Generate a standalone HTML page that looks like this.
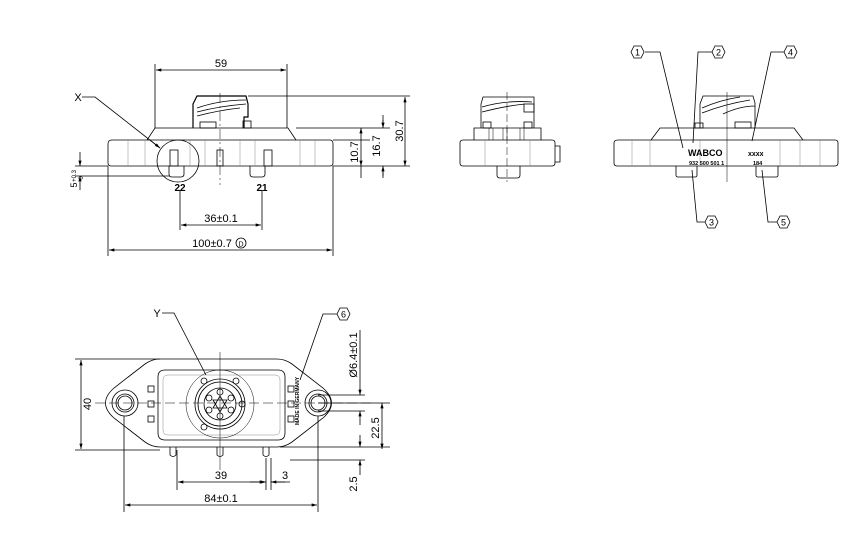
<!DOCTYPE html>
<html><head><meta charset="utf-8"><style>
html,body{margin:0;padding:0;background:#fff}
svg{display:block}
text{font-family:"Liberation Sans",sans-serif;fill:#000}
</style></head><body>
<svg width="868" height="555" viewBox="0 0 868 555" xmlns="http://www.w3.org/2000/svg">
<defs>
<marker id="a" viewBox="0 0 10 6" refX="10" refY="3" markerWidth="8" markerHeight="4" orient="auto-start-reverse"><path d="M0,0L10,3L0,6z" fill="#000"/></marker>
</defs>
<g fill="none" stroke="#000" stroke-width="0.8">
<!-- FRONT VIEW -->
<path d="M112,140 H330 Q333,140 333,144 V163 Q333,166 330,166 H111 Q108,166 108,163 V144 Q108,140 112,140Z"/>
<path d="M147,140 L155,128 H288 L296,140"/>
<path d="M193,128 V104 L197,96 H246 L248,104 V117 H244 V128" stroke-width="1.2"/>
<path d="M197,108 Q220,100 246,100 M197,112 Q220,106 246,104 M197,116 Q220,110 240,108"/>
<rect x="200" y="122" width="16" height="6"/><rect x="243" y="121" width="8" height="7"/>
<g stroke="#888" stroke-width="0.5"><path d="M128,140V166M145,140V166M190,140V166M205,140V166M240,140V166M255,140V166M300,140V166M315,140V166"/></g>
<rect x="170" y="150" width="8" height="16"/><rect x="217" y="150" width="6" height="16"/><rect x="264" y="150" width="8" height="16"/>
<path d="M169,166V174Q169,177 172,177H181Q184,177 184,174V166"/>
<path d="M250,166V174Q250,177 253,177H262Q265,177 265,174V166"/>
<circle cx="178" cy="161" r="21"/>
<path d="M220,93V185" stroke-dasharray="10,3,2,3" stroke-width="0.5"/>
<path d="M155,128V64M287,128V64"/><path d="M156,70H286" marker-start="url(#a)" marker-end="url(#a)"/>
<path d="M248,96H410M296,128H390M333,140H370M333,166H410M75,166H108M75,176H170"/>
<path d="M405,97V166" marker-start="url(#a)" marker-end="url(#a)"/>
<path d="M383,115V128M383,166V178"/><path d="M383,120V128" marker-end="url(#a)"/><path d="M383,176V166" marker-end="url(#a)"/>
<path d="M361,128V166" marker-start="url(#a)" marker-end="url(#a)"/><path d="M361,166V178"/>
<path d="M80,152V166" marker-end="url(#a)"/><path d="M80,190V176" marker-end="url(#a)"/>
<path d="M180,190V230M262,190V230M108,166V256M333,166V256"/>
<path d="M181,225H261" marker-start="url(#a)" marker-end="url(#a)"/>
<path d="M109,250H332" marker-start="url(#a)" marker-end="url(#a)"/>
<path d="M82,97H95L160,148" /><path d="M150,140L160,148" marker-end="url(#a)"/>
<circle cx="241" cy="243" r="5"/>
<!-- SIDE VIEW -->
<path d="M463,140H552Q555,140 555,143V163Q555,166 552,166H463Q460,166 460,163V143Q460,140 463,140Z"/>
<path d="M474,140V128H541V140M481,128V104L483,97H534V128" /><path d="M482,107Q505,100 532,102M482,112Q505,106 525,104"/>
<rect x="524" y="104" width="10" height="8"/>
<rect x="483" y="122" width="8" height="6"/><rect x="524" y="122" width="8" height="6"/>
<path d="M489,128V140M493,128V140M503,128V140M507,128V140M520,128V140M524,128V140" stroke-width="0.5"/>
<path d="M555,146H560V162H555M497,166V175Q497,178 500,178H517Q520,178 520,175V166"/>
<path d="M507,92V182" stroke-dasharray="8,3" stroke-width="0.5"/>
<g stroke="#888" stroke-width="0.5"><path d="M485,140V166M530,140V166"/></g>
<!-- RIGHT VIEW -->
<path d="M618,140H835Q838,140 838,143V163Q838,166 835,166H617Q614,166 614,163V143Q614,140 618,140Z"/>
<path d="M651,140L660,128H794L803,140"/>
<path d="M700,128V104L703,96H753L755,103V128M702,108Q720,100 740,97M702,113Q725,104 750,100M723,114Q740,106 755,106"/>
<rect x="695" y="123" width="8" height="5"/><rect x="735" y="122" width="16" height="6"/>
<path d="M727,92V182" stroke-width="0.5"/>
<g stroke="#888" stroke-width="0.5"><path d="M632,140V166M650,140V166M700,140V166M780,140V166M800,140V166M820,140V166"/></g>
<path d="M676,166V175Q676,177 678,177H695Q697,177 697,175V166M756,166V175Q756,177 758,177H776Q778,177 778,175V166"/>
<path d="M645,52H660L683,148M712,52H698L693,143M784,52H771L752,141M705,222H697L692,170M777,222H768L762,170"/>
<!-- BOTTOM VIEW -->
<path d="M160,359H277Q285,359 292,364L323,388Q340,403 323,418L292,442Q285,447 277,447H160Q152,447 145,442L114,418Q97,403 114,388L145,364Q152,359 160,359Z"/>
<path d="M165,370H278Q285,370 285,377V433Q285,440 278,440H165Q158,440 158,433V377Q158,370 165,370Z"/>
<path d="M168,375H275Q280,375 280,380V430Q280,435 275,435H168Q163,435 163,430V380Q163,375 168,375Z" stroke="#888" stroke-width="0.5"/>
<circle cx="125" cy="403" r="13"/><circle cx="125" cy="403" r="9"/><circle cx="125" cy="403" r="7"/>
<circle cx="318" cy="403" r="13"/><circle cx="318" cy="403" r="9"/><circle cx="318" cy="403" r="7"/>
<circle cx="220" cy="404" r="34" stroke-width="0.5"/><circle cx="220" cy="404" r="25"/><circle cx="220" cy="404" r="22"/><circle cx="220" cy="404" r="16"/>
<circle cx="204" cy="381" r="3"/><circle cx="236" cy="381" r="3"/><circle cx="204" cy="427" r="3"/><circle cx="242" cy="404" r="3"/>
<circle cx="220" cy="392" r="3"/><circle cx="220" cy="416" r="3"/><circle cx="209" cy="398" r="3"/><circle cx="231" cy="398" r="3"/><circle cx="209" cy="410" r="3"/><circle cx="231" cy="410" r="3"/>
<path d="M220,396L227,408H213Z M220,412L213,400H227Z"/>
<rect x="148" y="386" width="6" height="6"/><rect x="148" y="401" width="6" height="6"/><rect x="148" y="416" width="6" height="6"/>
<rect x="288" y="386" width="6" height="6"/><rect x="288" y="401" width="6" height="6"/><rect x="288" y="416" width="6" height="6"/>
<path d="M170,447V455Q173,458 176,455V447M217,447V455Q220,458 223,455V447M263,447V455Q266,458 269,455V447"/>
<path d="M95,403H375" stroke-dasharray="10,4" stroke-width="0.5"/>
<path d="M220,352V470" stroke-width="0.5"/>
<path d="M75,359H160M75,450H160M280,447H390M290,460H365M318,403H390M318,395H365M318,411H365M124,416V512M318,416V512M177,450V490M266,458V490M271,458V490"/>
<path d="M81,360V449" marker-start="url(#a)" marker-end="url(#a)"/>
<path d="M125,505H317" marker-start="url(#a)" marker-end="url(#a)"/>
<path d="M178,482H265" marker-start="url(#a)" marker-end="url(#a)"/><path d="M271,482H290"/><path d="M250,482H266" marker-end="url(#a)"/><path d="M285,482H271" marker-end="url(#a)"/>
<path d="M382,403V449" marker-start="url(#a)" marker-end="url(#a)"/>
<path d="M360,435V447" marker-end="url(#a)"/><path d="M360,475V460" marker-end="url(#a)"/>
<path d="M360,330V395" marker-end="url(#a)"/><path d="M360,425V411" marker-end="url(#a)"/>
<path d="M162,313H174L206,375M337,314H323L300,380"/>
</g>
<g fill="#fff" stroke="#000" stroke-width="0.8">
<path d="M631,52L634,46H641L644,52L641,58H634Z"/>
<path d="M712,52L715,46H722L725,52L722,58H715Z"/>
<path d="M784,52L787,46H794L797,52L794,58H787Z"/>
<path d="M705,222L708,216H715L718,222L715,228H708Z"/>
<path d="M777,222L780,216H787L790,222L787,228H780Z"/>
<path d="M337,314L340,308H347L350,314L347,320H340Z"/>
</g>
<g font-size="9" text-anchor="middle">
<text x="637.5" y="55.5">1</text><text x="718.5" y="55.5">2</text><text x="790.5" y="55.5">4</text>
<text x="711.5" y="225.5">3</text><text x="783.5" y="225.5">5</text><text x="343.5" y="317.5">6</text>
</g>
<g font-size="11" text-anchor="middle">
<text x="221" y="67">59</text>
<text x="221" y="222">36±0.1</text>
<text x="212" y="247">100±0.7</text>
<text x="241" y="246.5" font-size="7">D</text>
<text x="78" y="101">X</text>
<text x="157" y="317">Y</text>
<text x="221" y="479">39</text>
<text x="285" y="479">3</text>
<text x="221" y="502">84±0.1</text>
<text x="180" y="191" font-weight="bold" font-size="10">22</text>
<text x="262" y="191" font-weight="bold" font-size="10">21</text>
<text transform="translate(403,131) rotate(-90)">30.7</text>
<text transform="translate(380,146) rotate(-90)">16.7</text>
<text transform="translate(358,152) rotate(-90)">10.7</text>
<text transform="translate(91,404) rotate(-90)">40</text>
<text transform="translate(379,428) rotate(-90)">22.5</text>
<text transform="translate(357,484) rotate(-90)">2.5</text>
<text transform="translate(357,355) rotate(-90)">Ø6.4±0.1</text>
<text transform="translate(77,185) rotate(-90)" font-size="9">5</text>
<text transform="translate(76,176) rotate(-90)" font-size="6">+0.3</text>
<text transform="translate(83,178) rotate(-90)" font-size="6">0</text>
</g>
<g font-weight="bold">
<text x="688" y="156" font-size="9">WABCO</text>
<text x="748" y="156" font-size="7">xxxx</text>
<text x="689" y="165" font-size="5.5">932  500  501  1</text>
<text x="753" y="165" font-size="5.5">184</text>
<text transform="translate(299,425) rotate(-90)" font-size="5">MADE IN GERMANY</text>
</g>
</svg>
</body></html>
